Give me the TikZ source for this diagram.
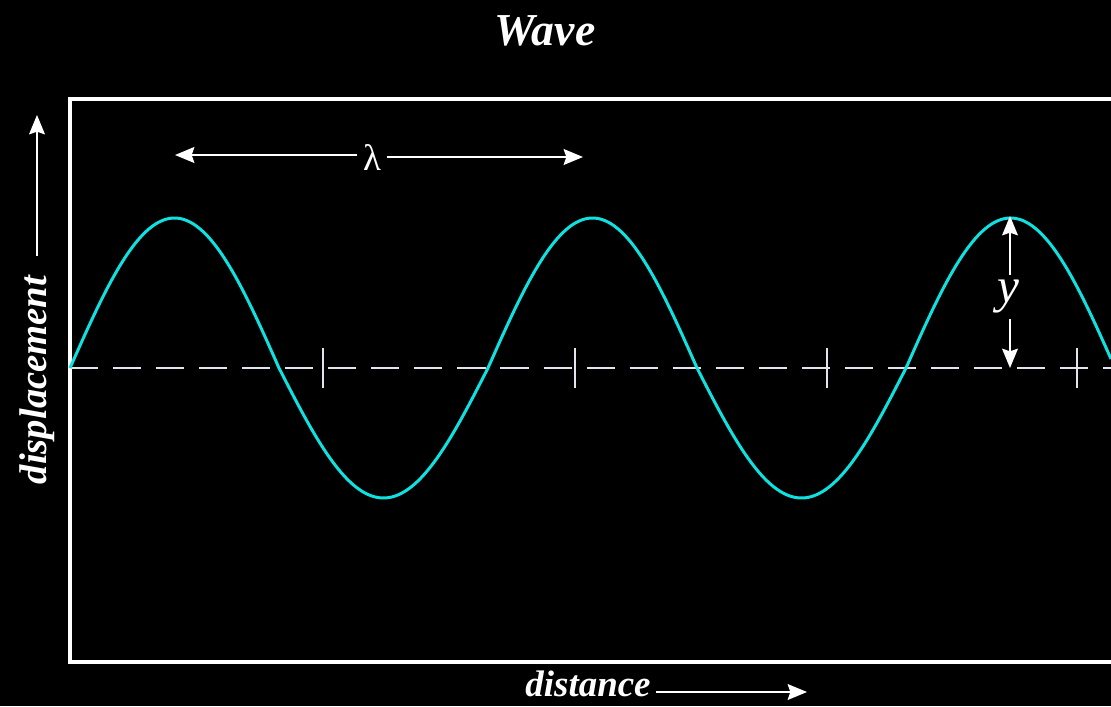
\documentclass[tikz,border=0pt]{standalone}
\usepackage{fontspec}
\setmainfont{Liberation Serif}
\usetikzlibrary{arrows.meta,positioning}
\definecolor{WaveCyan}{RGB}{15,225,225}
\definecolor{AxisGray}{RGB}{228,228,238}
\tikzset{
  lbl/.style={text=white,font=\fontsize{22}{26}\selectfont\bfseries\itshape,inner sep=3pt},
  arr/.style={-{Stealth[length=11pt,width=9pt,inset=1.5pt]},white,line width=1.3pt},
  axtick/.style={AxisGray,line width=0.9pt},
}

\begin{document}
\begin{tikzpicture}[x=0.02cm,y=-0.02cm]
    \useasboundingbox[fill=black] (0,0) rectangle (1111,706);

    % Frame
    \draw[white,line width=1.8pt] (1111,99) -- (70,99) -- (70,662) -- (1111,662);

    % Axis and ticks
    \draw[AxisGray,line width=1.1pt,dash pattern=on 16pt off 8.5pt] (70,368) -- (1111,368);
    \foreach \x in {323,575,827,1077}
        \draw[axtick] (\x,348) -- (\x,388);

    % Wave (wavelength 418 px)
    \draw[WaveCyan,line width=1.7pt,samples=400,domain=70:1111,smooth]
        plot (\x,{368-140*sin(0.861244*(\x-70))-10*abs(sin(0.861244*(\x-70)))});

    % Labels
    \node[lbl,font=\fontsize{26}{30}\selectfont\bfseries\itshape] (title) at (545,31) {Wave};
    \node[lbl,rotate=90] (disp) at (37,380) {displacement};
    \node[lbl,font=\fontsize{21}{25}\selectfont\bfseries\itshape] (dist) at (588,684) {distance};
    \node[text=white,font=\fontsize{21}{24}\selectfont,inner sep=3pt] (lam) at (372,158) {λ};
    \node[text=white,font=\fontsize{28}{32}\selectfont\itshape,inner sep=3pt] (amp) at (1008,297) {y};

    \coordinate (dispTip) at (37,115);
    \coordinate (distTip) at (807,692);
    \coordinate (lamL) at (175,155);
    \coordinate (lamR) at (583,157);
    \coordinate (ampTop) at (1010,216);
    \coordinate (ampBot) at (1010,368);

    % Arrows
    \draw[arr,line width=1pt,shorten <=8pt] (disp.east) -- (dispTip);
    \draw[arr,line width=1pt] (dist.east |- distTip) -- (distTip);
    \draw[arr] (lam.west |- lamL) -- (lamL);
    \draw[arr] (lam.east |- lamR) -- (lamR);
    \draw[arr,line width=1pt] (ampTop |- amp.north) -- (ampTop);
    \draw[arr,line width=1pt] (ampBot |- amp.south) -- (ampBot);

\end{tikzpicture}
\end{document}
